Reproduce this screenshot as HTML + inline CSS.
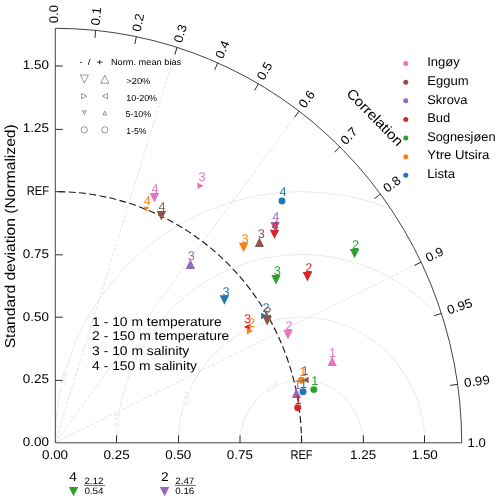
<!DOCTYPE html>
<html><head><meta charset="utf-8"><title>Taylor diagram</title>
<style>html,body{margin:0;padding:0;background:#fff}svg{display:block;will-change:transform}text{font-family:"Liberation Sans",sans-serif;text-rendering:geometricPrecision}</style></head>
<body>
<svg width="500" height="502" viewBox="0 0 500 502">
<rect width="500" height="502" fill="#fff"/>
<defs><clipPath id="cp"><path d="M55 442.8 L55 28.32 A406.72 414.48 0 0 1 461.72 442.8 Z"/></clipPath></defs>
<g clip-path="url(#cp)" fill="none">
<ellipse cx="301.5" cy="442.8" rx="61.62" ry="62.8" stroke="#e4e4e4" stroke-width="0.8"/>
<ellipse cx="301.5" cy="442.8" rx="123.25" ry="125.6" stroke="#e4e4e4" stroke-width="0.8"/>
<ellipse cx="301.5" cy="442.8" rx="184.88" ry="188.4" stroke="#e4e4e4" stroke-width="0.8"/>
<ellipse cx="301.5" cy="442.8" rx="246.5" ry="251.2" stroke="#e4e4e4" stroke-width="0.8"/>
<rect x="54.51" y="376" width="18.58" height="4" fill="#fff" transform="rotate(-75.2 63.8 378)"/>
<rect x="107.71" y="417.6" width="18.58" height="4" fill="#fff" transform="rotate(-83.5 117 419.6)"/>
<rect x="176.91" y="396.6" width="18.58" height="4" fill="#fff" transform="rotate(-75 186.2 398.6)"/>
<rect x="262.91" y="385.2" width="18.58" height="4" fill="#fff" transform="rotate(-33 272.2 387.2)"/>
<line x1="55" y1="442.8" x2="177.02" y2="47.41" stroke="#dcdcdc" stroke-width="0.8" stroke-dasharray="3.3 1.7"/>
<line x1="55" y1="442.8" x2="299.03" y2="111.22" stroke="#dcdcdc" stroke-width="0.8" stroke-dasharray="3.3 1.7"/>
<line x1="55" y1="442.8" x2="421.05" y2="262.13" stroke="#dcdcdc" stroke-width="0.8" stroke-dasharray="3.3 1.7"/>
<path d="M55 191.6 A246.5 251.2 0 0 1 301.5 442.8" stroke="#1a1a1a" stroke-width="1.15" stroke-dasharray="6.9 3.4" stroke-dashoffset="6.8"/>
</g>
<g transform="rotate(-75.2 63.8 378)">
<text x="63.8" y="380.2" font-size="6.41" text-anchor="middle" fill="#dedede" textLength="13.58" lengthAdjust="spacingAndGlyphs">1.00</text>
</g>
<g transform="rotate(-83.5 117 419.6)">
<text x="117" y="421.8" font-size="6.41" text-anchor="middle" fill="#dedede" textLength="13.58" lengthAdjust="spacingAndGlyphs">0.75</text>
</g>
<g transform="rotate(-75 186.2 398.6)">
<text x="186.2" y="400.8" font-size="6.41" text-anchor="middle" fill="#dedede" textLength="13.58" lengthAdjust="spacingAndGlyphs">0.50</text>
</g>
<g transform="rotate(-33 272.2 387.2)">
<text x="272.2" y="389.4" font-size="6.41" text-anchor="middle" fill="#dedede" textLength="13.58" lengthAdjust="spacingAndGlyphs">0.25</text>
</g>
<g stroke="#222" stroke-width="0.95" fill="none">
<path stroke-width="0.85" d="M55.3 28.32 L55.3 442.8 L461.72 442.8 A406.42 414.48 0 0 0 55.3 28.32"/>
<line x1="116.5" y1="442.8" x2="116.5" y2="435.3"/>
<line x1="55.3" y1="380.4" x2="62.8" y2="380.4"/>
<line x1="178.5" y1="442.8" x2="178.5" y2="435.3"/>
<line x1="55.3" y1="317.2" x2="62.8" y2="317.2"/>
<line x1="240" y1="442.8" x2="240" y2="435.3"/>
<line x1="55.3" y1="254.8" x2="62.8" y2="254.8"/>
<line x1="301.6" y1="442.8" x2="301.6" y2="435.3"/>
<line x1="55.3" y1="191.7" x2="62.8" y2="191.7"/>
<line x1="363.4" y1="442.8" x2="363.4" y2="435.3"/>
<line x1="55.3" y1="129.4" x2="62.8" y2="129.4"/>
<line x1="424.5" y1="442.8" x2="424.5" y2="435.3"/>
<line x1="55.3" y1="66" x2="62.8" y2="66"/>
<line x1="95.67" y1="30.4" x2="94.94" y2="37.86"/>
<line x1="136.34" y1="36.69" x2="134.87" y2="44.05"/>
<line x1="177.02" y1="47.41" x2="174.81" y2="54.58"/>
<line x1="217.69" y1="62.92" x2="214.74" y2="69.82"/>
<line x1="258.36" y1="83.85" x2="254.67" y2="90.38"/>
<line x1="299.03" y1="111.22" x2="294.59" y2="117.26"/>
<line x1="339.71" y1="146.8" x2="334.51" y2="152.21"/>
<line x1="380.38" y1="194.11" x2="374.42" y2="198.67"/>
<line x1="421.05" y1="262.13" x2="414.33" y2="265.45"/>
<line x1="441.39" y1="313.38" x2="434.28" y2="315.76"/>
<line x1="457.66" y1="384.33" x2="450.24" y2="385.41"/>
</g>
<text x="55" y="458.7" font-size="12.6" text-anchor="middle" fill="#000" textLength="26.12" lengthAdjust="spacingAndGlyphs">0.00</text>
<text x="49" y="446.1" font-size="12.6" text-anchor="end" fill="#000" textLength="26.12" lengthAdjust="spacingAndGlyphs">0.00</text>
<text x="116.62" y="458.7" font-size="12.6" text-anchor="middle" fill="#000" textLength="26.12" lengthAdjust="spacingAndGlyphs">0.25</text>
<text x="49" y="383.3" font-size="12.6" text-anchor="end" fill="#000" textLength="26.12" lengthAdjust="spacingAndGlyphs">0.25</text>
<text x="178.25" y="458.7" font-size="12.6" text-anchor="middle" fill="#000" textLength="26.12" lengthAdjust="spacingAndGlyphs">0.50</text>
<text x="49" y="320.5" font-size="12.6" text-anchor="end" fill="#000" textLength="26.12" lengthAdjust="spacingAndGlyphs">0.50</text>
<text x="239.88" y="458.7" font-size="12.6" text-anchor="middle" fill="#000" textLength="26.12" lengthAdjust="spacingAndGlyphs">0.75</text>
<text x="49" y="257.7" font-size="12.6" text-anchor="end" fill="#000" textLength="26.12" lengthAdjust="spacingAndGlyphs">0.75</text>
<text x="301.5" y="458.7" font-size="12.6" text-anchor="middle" fill="#000" textLength="22.22" lengthAdjust="spacingAndGlyphs">REF</text>
<text x="49" y="194.9" font-size="12.6" text-anchor="end" fill="#000" textLength="22.22" lengthAdjust="spacingAndGlyphs">REF</text>
<text x="363.12" y="458.7" font-size="12.6" text-anchor="middle" fill="#000" textLength="26.12" lengthAdjust="spacingAndGlyphs">1.25</text>
<text x="49" y="132.1" font-size="12.6" text-anchor="end" fill="#000" textLength="26.12" lengthAdjust="spacingAndGlyphs">1.25</text>
<text x="424.75" y="458.7" font-size="12.6" text-anchor="middle" fill="#000" textLength="26.12" lengthAdjust="spacingAndGlyphs">1.50</text>
<text x="49" y="69.3" font-size="12.6" text-anchor="end" fill="#000" textLength="26.12" lengthAdjust="spacingAndGlyphs">1.50</text>
<g transform="translate(55 23.22) rotate(-90)">
<text x="0" y="3.3" font-size="12.6" text-anchor="start" fill="#000" textLength="18.18" lengthAdjust="spacingAndGlyphs">0.0</text>
</g>
<g transform="translate(96.17 25.32) rotate(-84.37)">
<text x="0" y="3.3" font-size="12.6" text-anchor="start" fill="#000" textLength="18.18" lengthAdjust="spacingAndGlyphs">0.1</text>
</g>
<g transform="translate(137.35 31.69) rotate(-78.67)">
<text x="0" y="3.3" font-size="12.6" text-anchor="start" fill="#000" textLength="18.18" lengthAdjust="spacingAndGlyphs">0.2</text>
</g>
<g transform="translate(178.52 42.54) rotate(-72.85)">
<text x="0" y="3.3" font-size="12.6" text-anchor="start" fill="#000" textLength="18.18" lengthAdjust="spacingAndGlyphs">0.3</text>
</g>
<g transform="translate(219.7 58.23) rotate(-66.82)">
<text x="0" y="3.3" font-size="12.6" text-anchor="start" fill="#000" textLength="18.18" lengthAdjust="spacingAndGlyphs">0.4</text>
</g>
<g transform="translate(260.88 79.41) rotate(-60.47)">
<text x="0" y="3.3" font-size="12.6" text-anchor="start" fill="#000" textLength="18.18" lengthAdjust="spacingAndGlyphs">0.5</text>
</g>
<g transform="translate(302.06 107.11) rotate(-53.65)">
<text x="0" y="3.3" font-size="12.6" text-anchor="start" fill="#000" textLength="18.18" lengthAdjust="spacingAndGlyphs">0.6</text>
</g>
<g transform="translate(343.24 143.13) rotate(-46.11)">
<text x="0" y="3.3" font-size="12.6" text-anchor="start" fill="#000" textLength="18.18" lengthAdjust="spacingAndGlyphs">0.7</text>
</g>
<g transform="translate(385.23 190.41) rotate(-37.39)">
<text x="0" y="3.3" font-size="12.6" text-anchor="start" fill="#000" textLength="18.18" lengthAdjust="spacingAndGlyphs">0.8</text>
</g>
<g transform="translate(426.7 259.34) rotate(-26.27)">
<text x="0" y="3.3" font-size="12.6" text-anchor="start" fill="#000" textLength="18.18" lengthAdjust="spacingAndGlyphs">0.9</text>
</g>
<g transform="translate(447.65 311.28) rotate(-18.52)">
<text x="0" y="3.5" font-size="12.6" text-anchor="start" fill="#000" textLength="25.82" lengthAdjust="spacingAndGlyphs">0.95</text>
</g>
<g transform="translate(464.09 383.4) rotate(-8.26)">
<text x="0" y="4" font-size="12.6" text-anchor="start" fill="#000" textLength="25.82" lengthAdjust="spacingAndGlyphs">0.99</text>
</g>
<g transform="translate(467.62 442.8) rotate(0)">
<text x="0" y="3.7" font-size="12.6" text-anchor="start" fill="#000" textLength="18.18" lengthAdjust="spacingAndGlyphs">1.0</text>
</g>
<text x="15.1" y="236.3" font-size="14.38" text-anchor="middle" fill="#000" textLength="224.09" lengthAdjust="spacingAndGlyphs" transform="rotate(-90 15.1 236.3)">Standard deviation (Normalized)</text>
<text x="375" y="117.2" font-size="14.07" text-anchor="middle" fill="#000" textLength="73.89" lengthAdjust="spacingAndGlyphs" transform="rotate(45.7 375 117.2)" dy="4.9">Correlation</text>
<circle cx="405.8" cy="63.5" r="2.5" fill="#e377c2"/>
<text x="427.2" y="66.3" font-size="12.63" text-anchor="start" fill="#000" textLength="32.65" lengthAdjust="spacingAndGlyphs">Ingøy</text>
<circle cx="405.8" cy="82.13" r="2.5" fill="#8c564b"/>
<text x="427.2" y="84.93" font-size="12.63" text-anchor="start" fill="#000" textLength="41.41" lengthAdjust="spacingAndGlyphs">Eggum</text>
<circle cx="405.8" cy="100.76" r="2.5" fill="#9467bd"/>
<text x="427.2" y="103.56" font-size="12.63" text-anchor="start" fill="#000" textLength="40.35" lengthAdjust="spacingAndGlyphs">Skrova</text>
<circle cx="405.8" cy="119.39" r="2.5" fill="#d62728"/>
<text x="427.2" y="122.19" font-size="12.63" text-anchor="start" fill="#000" textLength="23.06" lengthAdjust="spacingAndGlyphs">Bud</text>
<circle cx="405.8" cy="138.02" r="2.5" fill="#2ca02c"/>
<text x="427.2" y="140.82" font-size="12.63" text-anchor="start" fill="#000" textLength="68.32" lengthAdjust="spacingAndGlyphs">Sognesjøen</text>
<circle cx="405.8" cy="156.65" r="2.5" fill="#ff7f0e"/>
<text x="427.2" y="159.45" font-size="12.63" text-anchor="start" fill="#000" textLength="62.21" lengthAdjust="spacingAndGlyphs">Ytre Utsira</text>
<circle cx="405.8" cy="175.28" r="2.5" fill="#1f77b4"/>
<text x="427.2" y="178.08" font-size="12.63" text-anchor="start" fill="#000" textLength="27.86" lengthAdjust="spacingAndGlyphs">Lista</text>
<text x="79.4" y="64.9" font-size="8.75" text-anchor="start" fill="#000" textLength="3.01" lengthAdjust="spacingAndGlyphs">-</text>
<text x="87.8" y="64.9" font-size="8.75" text-anchor="start" fill="#000" textLength="2.81" lengthAdjust="spacingAndGlyphs">/</text>
<text x="96.2" y="64.9" font-size="8.75" text-anchor="start" fill="#000" textLength="6.98" lengthAdjust="spacingAndGlyphs">+</text>
<text x="110.9" y="64.9" font-size="8.75" text-anchor="start" fill="#000" textLength="70.33" lengthAdjust="spacingAndGlyphs">Norm. mean bias</text>
<polygon points="80.4,75 88.4,75 84.4,83" fill="none" stroke="#444" stroke-width="0.55"/>
<polygon points="100.8,83.2 108.8,83.2 104.8,75.2" fill="none" stroke="#444" stroke-width="0.55"/>
<polygon points="81.6,93.5 81.6,98.7 86.8,96.1" fill="none" stroke="#444" stroke-width="0.55"/>
<polygon points="107.6,93.5 107.6,98.7 102.4,96.1" fill="none" stroke="#444" stroke-width="0.55"/>
<polygon points="82.5,110.8 86.3,110.8 84.4,114.6" fill="none" stroke="#444" stroke-width="0.55"/>
<polygon points="102.9,114.9 106.7,114.9 104.8,111.1" fill="none" stroke="#444" stroke-width="0.55"/>
<circle cx="84.3" cy="129.8" r="3.15" fill="none" stroke="#444" stroke-width="0.55"/>
<circle cx="104.8" cy="129.8" r="3.15" fill="none" stroke="#444" stroke-width="0.55"/>
<text x="126.2" y="83.8" font-size="8.75" text-anchor="start" fill="#000" textLength="24.29" lengthAdjust="spacingAndGlyphs">&gt;20%</text>
<text x="126.2" y="100.6" font-size="8.75" text-anchor="start" fill="#000" textLength="30.92" lengthAdjust="spacingAndGlyphs">10-20%</text>
<text x="125.5" y="117.2" font-size="8.75" text-anchor="start" fill="#000" textLength="25.62" lengthAdjust="spacingAndGlyphs">5-10%</text>
<text x="126.2" y="133.9" font-size="8.75" text-anchor="start" fill="#000" textLength="20.32" lengthAdjust="spacingAndGlyphs">1-5%</text>
<text x="92.1" y="325.7" font-size="12.6" text-anchor="start" fill="#000" textLength="129.61" lengthAdjust="spacingAndGlyphs">1 - 10 m temperature</text>
<text x="92.1" y="340.4" font-size="12.6" text-anchor="start" fill="#000" textLength="137.25" lengthAdjust="spacingAndGlyphs">2 - 150 m temperature</text>
<text x="92.1" y="355.1" font-size="12.6" text-anchor="start" fill="#000" textLength="97.2" lengthAdjust="spacingAndGlyphs">3 - 10 m salinity</text>
<text x="92.1" y="369.8" font-size="12.6" text-anchor="start" fill="#000" textLength="104.84" lengthAdjust="spacingAndGlyphs">4 - 150 m salinity</text>
<polygon points="327.5,365.9 336.9,365.9 332.2,356.5" fill="#e377c2"/>
<polygon points="283.3,330.1 292.7,330.1 288,339.5" fill="#e377c2"/>
<polygon points="197.45,182.65 197.45,188.95 203.75,185.8" fill="#e377c2"/>
<polygon points="149.7,193 159.1,193 154.4,202.4" fill="#e377c2"/>
<polygon points="261.15,312.85 261.15,319.15 267.45,316" fill="#1f77b4"/>
<polygon points="308.65,376.85 308.65,383.15 302.35,380" fill="#8c564b"/>
<polygon points="262.5,316 271.9,316 267.2,325.4" fill="#8c564b"/>
<polygon points="254.7,247 264.1,247 259.4,237.6" fill="#8c564b"/>
<polygon points="156.7,211 166.1,211 161.4,220.4" fill="#8c564b"/>
<polygon points="291.7,397.9 301.1,397.9 296.4,388.5" fill="#9467bd"/>
<polygon points="185.7,269 195.1,269 190.4,259.6" fill="#9467bd"/>
<polygon points="270.4,222 279.8,222 275.1,231.4" fill="#9467bd"/>
<circle cx="297.7" cy="407.7" r="3.45" fill="#d62728"/>
<polygon points="302.7,272.1 312.1,272.1 307.4,281.5" fill="#d62728"/>
<polygon points="250.15,323.85 250.15,330.15 243.85,327" fill="#d62728"/>
<polygon points="269.8,229.7 279.2,229.7 274.5,239.1" fill="#d62728"/>
<circle cx="313.8" cy="389.6" r="3.45" fill="#2ca02c"/>
<polygon points="349.9,248.9 359.3,248.9 354.6,258.3" fill="#2ca02c"/>
<polygon points="271.3,275 280.7,275 276,284.4" fill="#2ca02c"/>
<circle cx="301.4" cy="380.2" r="3.45" fill="#ff7f0e"/>
<polygon points="246.85,327.85 246.85,334.15 253.15,331" fill="#ff7f0e"/>
<polygon points="238.9,242.8 248.3,242.8 243.6,252.2" fill="#ff7f0e"/>
<polygon points="143.9,206.8 148.9,206.8 146.4,211.8" fill="#ff7f0e"/>
<circle cx="303" cy="391.8" r="3.45" fill="#1f77b4"/>
<polygon points="219.7,295.3 229.1,295.3 224.4,304.7" fill="#1f77b4"/>
<circle cx="282" cy="201" r="3.45" fill="#1f77b4"/>
<text x="332.5" y="356.7" font-size="12.7" text-anchor="middle" fill="#e377c2">1</text>
<text x="289" y="330.2" font-size="12.7" text-anchor="middle" fill="#e377c2">2</text>
<text x="202" y="181.2" font-size="12.7" text-anchor="middle" fill="#e377c2">3</text>
<text x="155" y="193.2" font-size="12.7" text-anchor="middle" fill="#e377c2">4</text>
<text x="266" y="311.6" font-size="12.7" text-anchor="middle" fill="#1f77b4">2</text>
<text x="305.1" y="375.2" font-size="12.7" text-anchor="middle" fill="#8c564b">1</text>
<text x="268" y="316.2" font-size="12.7" text-anchor="middle" fill="#8c564b">2</text>
<text x="261.2" y="238.2" font-size="12.7" text-anchor="middle" fill="#8c564b">3</text>
<text x="162" y="211.2" font-size="12.7" text-anchor="middle" fill="#8c564b">4</text>
<text x="297.6" y="388.7" font-size="12.7" text-anchor="middle" fill="#9467bd">1</text>
<text x="191.4" y="259.6" font-size="12.7" text-anchor="middle" fill="#9467bd">3</text>
<text x="275.8" y="220.8" font-size="12.7" text-anchor="middle" fill="#9467bd">4</text>
<text x="298.4" y="403.7" font-size="12.7" text-anchor="middle" fill="#d62728">1</text>
<text x="308.9" y="272.4" font-size="12.7" text-anchor="middle" fill="#d62728">2</text>
<text x="247.6" y="322.6" font-size="12.7" text-anchor="middle" fill="#d62728">3</text>
<text x="275.4" y="229.6" font-size="12.7" text-anchor="middle" fill="#d62728">4</text>
<text x="314.9" y="385.2" font-size="12.7" text-anchor="middle" fill="#2ca02c">1</text>
<text x="355.6" y="249.2" font-size="12.7" text-anchor="middle" fill="#2ca02c">2</text>
<text x="277.4" y="275.2" font-size="12.7" text-anchor="middle" fill="#2ca02c">3</text>
<text x="302.9" y="375.7" font-size="12.7" text-anchor="middle" fill="#ff7f0e">1</text>
<text x="251.6" y="326.6" font-size="12.7" text-anchor="middle" fill="#ff7f0e">2</text>
<text x="245" y="243.2" font-size="12.7" text-anchor="middle" fill="#ff7f0e">3</text>
<text x="147.4" y="205.2" font-size="12.7" text-anchor="middle" fill="#ff7f0e">4</text>
<text x="303.6" y="387.7" font-size="12.7" text-anchor="middle" fill="#1f77b4">1</text>
<text x="226" y="295.8" font-size="12.7" text-anchor="middle" fill="#1f77b4">3</text>
<text x="283" y="196.2" font-size="12.7" text-anchor="middle" fill="#1f77b4">4</text>
<polygon points="68.8,486.9 78.2,486.9 73.5,496.3" fill="#2ca02c"/>
<text x="73" y="481" font-size="12.6" text-anchor="middle" fill="#000" textLength="7.63" lengthAdjust="spacingAndGlyphs">4</text>
<text x="84.4" y="483.8" font-size="9.2" text-anchor="start" fill="#000" textLength="19.15" lengthAdjust="spacingAndGlyphs">2.12</text>
<text x="84.4" y="494" font-size="9.2" text-anchor="start" fill="#000" textLength="19.15" lengthAdjust="spacingAndGlyphs">0.54</text>
<line x1="84.2" y1="485.4" x2="104.9" y2="485.4" stroke="#222" stroke-width="0.7"/>
<polygon points="159.9,486.9 169.3,486.9 164.6,496.3" fill="#9467bd"/>
<text x="164.9" y="481" font-size="12.6" text-anchor="middle" fill="#000" textLength="7.63" lengthAdjust="spacingAndGlyphs">2</text>
<text x="175.2" y="483.8" font-size="9.2" text-anchor="start" fill="#000" textLength="19.15" lengthAdjust="spacingAndGlyphs">2.47</text>
<text x="175.2" y="494" font-size="9.2" text-anchor="start" fill="#000" textLength="19.15" lengthAdjust="spacingAndGlyphs">0.16</text>
<line x1="175" y1="485.4" x2="195.7" y2="485.4" stroke="#222" stroke-width="0.7"/>
</svg>
</body></html>
